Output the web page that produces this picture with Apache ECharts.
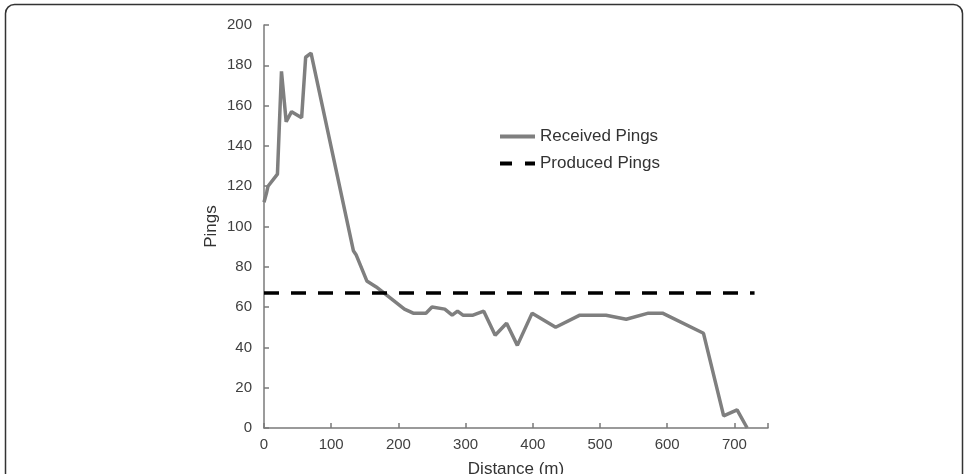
<!DOCTYPE html>
<html>
<head>
<meta charset="utf-8">
<script src="https://cdn.jsdelivr.net/npm/echarts@6/dist/echarts.min.js"></script>
<style>
  html, body { margin: 0; padding: 0; background: #fff; }
  #chart { width: 967px; height: 474px; }
</style>
</head>
<body>
<div id="chart"></div>
<script>
// distance (m) of each received-pings reading
const distances = [0, 4, 6, 20, 26, 33, 41, 56, 62, 70, 133, 137, 153, 167, 209, 222, 241, 250, 269, 280, 288, 296, 311, 327, 344, 361, 377, 399, 434, 470, 509, 539, 572, 593, 654, 684, 704, 719];
const receivedPings = [112, 117, 120, 126, 177, 152, 157, 154, 184, 186, 88, 86, 73, 70, 59, 57, 57, 60, 59, 56, 58, 56, 56, 58, 46, 52, 41, 57, 50, 56, 56, 54, 57, 57, 47, 6, 9, 0];
const producedRange = [0, 730];
const producedPings = 67;
const xTicks = [0, 750, 100];
const yTicks = [0, 200, 20];

const chart = echarts.init(document.getElementById("chart"));
const axisColor = "#7a7a7a";
const labelColor = "#404040";
const font = "Liberation Sans, Arial, sans-serif";

chart.setOption({
  animation: false,
  backgroundColor: "#fff",
  graphic: [
    {
      type: "rect",
      shape: { x: 5.5, y: 4.5, width: 957, height: 600, r: 9 },
      style: { fill: "none", stroke: "#333", lineWidth: 1.5 },
      silent: true,
    },
  ],
  grid: { left: 264, right: 199, top: 25, bottom: 46, containLabel: false, outerBoundsMode: "none" },
  legend: {
    orient: "vertical",
    left: 495,
    top: 123,
    itemGap: 10,
    itemWidth: 35,
    itemHeight: 4,
    symbolKeepAspect: false,
    textStyle: { fontSize: 17, color: "#333", fontFamily: font },
    data: [
      { name: "Received Pings", icon: "path://M0 0h35v4H0z" },
      { name: "Produced Pings", icon: "path://M0 0h12v4H0zM25 0h10v4H25z" },
    ],
  },
  xAxis: {
    type: "value",
    min: xTicks[0],
    max: xTicks[1],
    interval: xTicks[2],
    name: "Distance (m)",
    nameLocation: "middle",
    nameGap: 33,
    nameMoveOverlap: false,
    nameTextStyle: { fontSize: 17, color: "#333", fontFamily: font },
    splitLine: { show: false },
    axisLine: { lineStyle: { color: axisColor, width: 1.5 } },
    axisTick: { inside: true, length: 5, lineStyle: { color: axisColor, width: 1.5 } },
    axisLabel: {
      fontSize: 15,
      color: labelColor,
      fontFamily: font,
      margin: 9,
      formatter: (v) => (v === 750 ? "" : v),
    },
  },
  yAxis: {
    type: "value",
    min: yTicks[0],
    max: yTicks[1],
    interval: yTicks[2],
    name: "Pings",
    nameLocation: "middle",
    nameGap: 44,
    nameMoveOverlap: false,
    nameTextStyle: { fontSize: 17, color: "#333", fontFamily: font },
    splitLine: { show: false },
    axisLine: { show: true, lineStyle: { color: axisColor, width: 1.5 } },
    axisTick: { show: true, inside: true, length: 5, lineStyle: { color: axisColor, width: 1.5 } },
    axisLabel: { fontSize: 15, color: labelColor, fontFamily: font, margin: 12 },
  },
  series: [
    {
      name: "Received Pings",
      type: "line",
      symbol: "none",
      color: "#7f7f7f",
      lineStyle: { color: "#7f7f7f", width: 3.5 },
      data: distances.map((d, i) => [d, receivedPings[i]]),
    },
    {
      name: "Produced Pings",
      type: "line",
      symbol: "none",
      color: "#000",
      lineStyle: { color: "#000", width: 3.5, type: [15, 12] },
      data: producedRange.map((d) => [d, producedPings]),
    },
  ],
});
</script>
</body>
</html>
